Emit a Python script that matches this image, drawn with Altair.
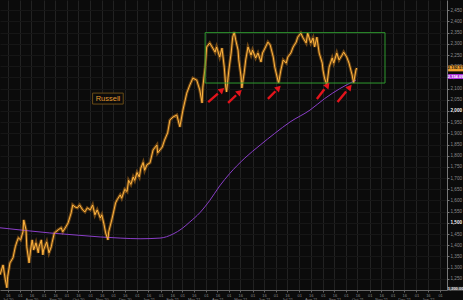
import altair as alt
import pandas as pd

START = pd.Timestamp("2020-07-06")

# Russell price (day offset from START, index level)
price_day = [0, 4, 7, 9, 10, 13, 17, 20, 22, 24, 27, 30, 31, 34, 35, 38, 40, 42, 44, 47,
             50, 51, 54, 56, 57, 61, 64, 67, 68, 71, 73, 76, 80, 82, 86, 89, 93, 95, 98, 101,
             104, 108, 111, 114, 118, 121, 124, 127, 131, 133, 136, 138, 141, 142, 146, 149, 151, 153,
             157, 159, 163, 166, 168, 171, 174, 176, 179, 182, 184, 187, 189, 192, 196, 200, 205, 206,
             212, 215, 219, 222, 226, 231, 235, 239, 244, 248, 252, 257, 261, 264, 265, 268, 270, 274,
             278, 281, 283, 287, 290, 293, 295, 296, 299, 302, 304, 306, 308, 311, 312, 315, 316, 319,
             321, 324, 328, 330, 334, 337, 341, 343, 347, 350, 353, 357, 359, 362, 364, 367, 370, 374,
             376, 380, 383, 387, 389, 393, 396, 400, 402, 406, 409, 411, 414, 417, 421, 422, 424, 427,
             430, 434, 436, 440, 443, 447, 449, 453, 456, 460, 462, 465, 466]
price_value = [1268, 1312, 1245, 1210, 1259, 1321, 1344, 1393, 1415, 1433, 1424, 1460, 1513, 1469, 1393,
               1321, 1379, 1424, 1379, 1411, 1366, 1393, 1424, 1357, 1379, 1415, 1366, 1393, 1411, 1455,
               1460, 1469, 1478, 1460, 1482, 1500, 1545, 1580, 1571, 1567, 1580, 1558, 1549, 1567, 1558,
               1580, 1536, 1558, 1522, 1536, 1491, 1455, 1424, 1460, 1513, 1558, 1589, 1603, 1625, 1610,
               1650, 1640, 1690, 1672, 1705, 1690, 1725, 1705, 1745, 1770, 1735, 1760, 1768, 1826, 1848,
               1813, 1839, 1870, 1902, 1960, 1973, 1982, 1929, 2004, 2080, 2116, 2147, 2138, 2094, 2036,
               2107, 2196, 2286, 2304, 2281, 2263, 2286, 2241, 2281, 2196, 2107, 2085, 2183, 2259, 2330,
               2353, 2317, 2272, 2228, 2152, 2103, 2170, 2228, 2286, 2250, 2272, 2237, 2259, 2219, 2259,
               2286, 2308, 2295, 2241, 2196, 2152, 2125, 2183, 2228, 2214, 2241, 2259, 2286, 2308, 2330,
               2348, 2326, 2304, 2348, 2304, 2326, 2286, 2330, 2259, 2214, 2183, 2147, 2116, 2196, 2237,
               2214, 2259, 2228, 2250, 2263, 2241, 2214, 2161, 2125, 2183, 2192]

# 200-day moving average
dma_day = [0, 33, 65, 98, 131, 157, 183, 209, 226, 238, 248, 261, 274, 287, 300, 320, 340, 359, 379,
           405, 424, 444, 465]
dma_value = [1478, 1466, 1455, 1446, 1437, 1432, 1429, 1432, 1450, 1475, 1504, 1545, 1600, 1665, 1720,
             1790, 1848, 1900, 1951, 2004, 2055, 2100, 2138]

# Range box
box_day = [268, 503]
box_value = [2125, 2350]

# Red arrows (tail -> head)
arrow_tail_day = [272, 298, 350, 414, 441]
arrow_tail_value = [2040, 2036, 2054, 2054, 2040]
arrow_head_day = [290, 313, 364, 428, 457]
arrow_head_value = [2094, 2085, 2103, 2116, 2107]
arrow_angle = [49, 47, 45, 38, 39]

# Label
label_text = "Russell"
label_day = [121, 161]
label_value = [2031, 2080]

# Right-side value tags
tag_text = ["2,192.57", "2,154.09", "1,200.00"]
tag_value_hi = [2203, 2165, 1214]
tag_value_lo = [2177, 2143, 1196]
tag_fill = ["#f0a030", "#b030e0", "#4a4a4a"]
tag_color = ["#111111", "#ffffff", "#dddddd"]
tag_day = [585.5, 605]

y_ticks = [1250, 1300, 1350, 1400, 1450, 1500, 1550, 1600, 1650, 1700, 1750, 1800, 1850, 1900, 1950,
           2000, 2050, 2100, 2150, 2200, 2250, 2300, 2350, 2400, 2450]


def d(days):
    return [START + pd.Timedelta(days=x) for x in days]


price_df = pd.DataFrame({"date": d(price_day), "value": price_value})
dma_df = pd.DataFrame({"date": d(dma_day), "value": dma_value})
box_df = pd.DataFrame({"date": d([box_day[0]]), "d2": d([box_day[1]]),
                       "value": [box_value[0]], "v2": [box_value[1]]})
arrow_df = pd.DataFrame({
    "date": d(arrow_tail_day), "value": arrow_tail_value,
    "hd": d(arrow_head_day), "hv": arrow_head_value,
    "angle": arrow_angle,
})
arrow_df["sd"] = [START + pd.Timedelta(days=t + 0.7 * (h - t)) for t, h in zip(arrow_tail_day, arrow_head_day)]
arrow_df["sv"] = [t + 0.7 * (h - t) for t, h in zip(arrow_tail_value, arrow_head_value)]
label_df = pd.DataFrame({"date": d([label_day[0]]), "d2": d([label_day[1]]),
                         "value": [label_value[0]], "v2": [label_value[1]],
                         "dm": d([(label_day[0] + label_day[1]) / 2]),
                         "vm": [(label_value[0] + label_value[1]) / 2],
                         "text": [label_text]})
tag_df = pd.DataFrame({"date": d([tag_day[0]] * 3), "d2": d([tag_day[1]] * 3),
                       "dm": d([(tag_day[0] + tag_day[1]) / 2] * 3),
                       "value": tag_value_hi, "lo": tag_value_lo,
                       "mid": [(a + b) / 2 for a, b in zip(tag_value_hi, tag_value_lo)],
                       "text": tag_text, "fill": tag_fill, "color": tag_color})

tick_dates = []
for yr, mo in [(2020, m) for m in range(7, 13)] + [(2021, m) for m in range(1, 13)] + [(2022, 1), (2022, 2)]:
    for dd in (1, 16):
        t = pd.Timestamp(year=yr, month=mo, day=dd)
        if pd.Timestamp("2020-07-06") < t < pd.Timestamp("2022-02-10"):
            tick_dates.append(alt.DateTime(year=yr, month=mo, date=dd))

xscale = alt.Scale(domain=[alt.DateTime(year=2020, month=7, date=6),
                           alt.DateTime(year=2022, month=2, date=10)])
yscale = alt.Scale(domain=[1200, 2496], zero=False, nice=False)

x_axis = alt.Axis(
    values=tick_dates,
    labelExpr="date(datum.value) == 16 ? [timeFormat(datum.value, '%d'), timeFormat(datum.value, '%b %y')] : timeFormat(datum.value, '%d')",
    labelFontSize=4, labelColor="#8a8a8a", labelPadding=1, labelLineHeight=4.6,
    labelOverlap=False, labelFont="Liberation Sans", labelBound=False, labelFlush=False,
    tickSize=2, tickColor="#666666", domainColor="#666666",
    grid=True, gridColor="#222222", gridWidth=1, title=None,
)
y_axis = alt.Axis(
    orient="right", values=y_ticks,
    labelExpr="format(datum.value, ',')",
    labelFontSize=4.6, labelFont="Liberation Sans", labelPadding=1,
    labelColor={"expr": "datum.value % 500 === 0 ? '#f0f0f0' : '#8c8c8c'"},
    labelFontWeight={"expr": "datum.value % 500 === 0 ? 'bold' : 'normal'"},
    labelBound=False, labelFlush=False,
    tickSize=2, tickColor="#777777", domainColor="#777777",
    grid=True, gridColor="#161616", title=None,
)

X = alt.X("date:T", scale=xscale, axis=x_axis, title=None)
Y = alt.Y("value:Q", scale=yscale, axis=y_axis, title=None)

glow = alt.Chart(price_df).mark_line(color="#e08a20", strokeWidth=3.0, opacity=0.45).encode(x=X, y=Y)
core = alt.Chart(price_df).mark_line(color="#ffb540", strokeWidth=1.0).encode(x=X, y=Y)
dma = alt.Chart(dma_df).mark_line(color="#8a3ec8", strokeWidth=1, interpolate="monotone").encode(x=X, y=Y)
box = alt.Chart(box_df).mark_rect(fillOpacity=0, stroke="#2f9a2f", strokeWidth=1).encode(
    x=X, x2="d2:T", y=Y, y2="v2:Q",
)
shaft = alt.Chart(arrow_df).mark_rule(color="#e3141c", strokeWidth=2.4).encode(
    x=X, x2="sd:T", y=Y, y2="sv:Q",
)
head = alt.Chart(arrow_df).mark_point(shape="triangle-up", filled=True, color="#e3141c",
                                      size=46, opacity=1).encode(
    x=alt.X("hd:T", scale=xscale, axis=x_axis, title=None),
    y=alt.Y("hv:Q", scale=yscale, axis=y_axis, title=None),
    angle=alt.Angle("angle:Q", scale=None),
)
lbl_box = alt.Chart(label_df).mark_rect(fill="#0b0b0b", stroke="#6a4c16", strokeWidth=1).encode(
    x=X, x2="d2:T", y=Y, y2="v2:Q",
)
lbl_text = alt.Chart(label_df).mark_text(color="#e09a30", fontSize=7.5, font="Liberation Sans",
                                         baseline="middle", align="center").encode(
    x=alt.X("dm:T", scale=xscale, axis=x_axis, title=None),
    y=alt.Y("vm:Q", scale=yscale, axis=y_axis, title=None),
    text="text:N",
)
tag_rect = alt.Chart(tag_df).mark_rect().encode(
    x=X, x2="d2:T", y=Y, y2="lo:Q",
    fill=alt.Fill("fill:N", scale=None),
)
tag_txt = alt.Chart(tag_df).mark_text(fontSize=4, font="Liberation Sans", fontWeight="bold",
                                      baseline="middle", align="center").encode(
    x=alt.X("dm:T", scale=xscale, axis=x_axis, title=None),
    y=alt.Y("mid:Q", scale=yscale, axis=y_axis, title=None),
    text="text:N",
    color=alt.Color("color:N", scale=None),
)

chart = alt.layer(
    glow, dma, core, box, shaft, head, lbl_box, lbl_text, tag_rect, tag_txt
).properties(
    width=447, height=290,
    autosize=alt.AutoSizeParams(type="none"),
    padding={"left": 0, "top": 0, "right": 16, "bottom": 10},
    background="#0b0b0b",
).configure_view(
    stroke=None, fill="#0b0b0b",
)

chart.save("out.html", embed_options={"renderer": "svg", "actions": False})
